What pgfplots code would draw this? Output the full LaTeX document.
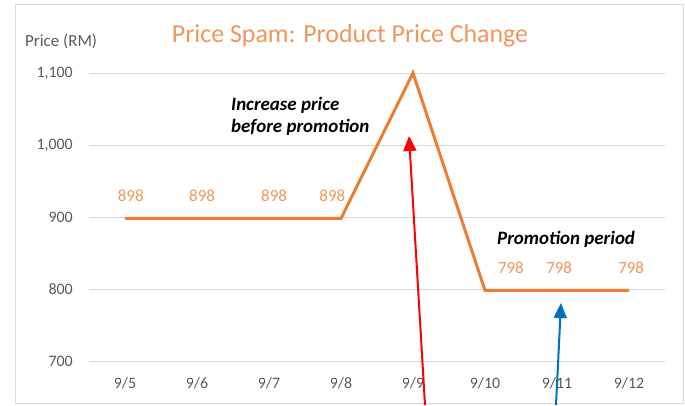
\documentclass[border=0pt]{standalone}
\usepackage{fontspec}
\setmainfont{Carlito}
\usepackage{pgfplots}
\pgfplotsset{compat=1.18}
\usetikzlibrary{arrows.meta}
\definecolor{lineor}{HTML}{ED7D31}
\definecolor{lightor}{HTML}{F0965A}
\definecolor{tickgray}{HTML}{595959}
\definecolor{gridgray}{HTML}{D9D9D9}
\definecolor{arrred}{HTML}{FF0000}
\definecolor{arrblue}{HTML}{0070C0}
\begin{document}
\begin{tikzpicture}[x=1bp,y=1bp]
\useasboundingbox (0,0) rectangle (685,405);
\draw[gridgray, line width=1bp] (15,2) rectangle (683,400);
\begin{axis}[
  at={(89bp,44bp)}, anchor=south west,
  scale only axis, width=576bp, height=288bp,
  xmin=-0.5, xmax=7.5, ymin=700, ymax=1100,
  ytick={700,800,900,1000,1100},
  xtick={0,1,2,3,4,5,6,7},
  xticklabels={9/5,9/6,9/7,9/8,9/9,9/10,9/11,9/12},
  ymajorgrids, grid style={gridgray, line width=1bp},
  axis line style={draw=none},
  major tick length=0pt,
  tick label style={font=\fontsize{16}{18}\selectfont, text=tickgray},
  /pgf/number format/assume math mode=true,
  /pgf/number format/1000 sep={,},
  yticklabel style={anchor=east, inner sep=0pt, xshift=-16bp},
  xticklabel style={anchor=north, inner sep=0pt, yshift=-16bp},
  clip=false,
]
\addplot[lineor, line width=3bp, line join=miter] coordinates {
  (0,898) (1,898) (2,898) (3,898) (4,1100) (5,798) (6,798) (7,798)};
\addplot[draw=none, mark=none, point meta=explicit symbolic,
  nodes near coords,
  nodes near coords style={text=lightor, font=\fontsize{17}{19}\selectfont, anchor=center, yshift=23bp}]
  coordinates {
  (0.08,898) [898] (1.07,898) [898] (2.07,898) [898] (2.88,898) [898]
  (5.36,798) [798] (6.03,798) [798] (7.03,798) [798]};
\end{axis}
\node[anchor=base, text=lightor, font=\fontsize{26}{30}\selectfont] at (350,363) {Price Spam: Product Price Change};
\node[anchor=base west, inner sep=0pt, text=tickgray, font=\fontsize{17}{20}\selectfont] at (25,359) {Price (RM)};
\node[anchor=base west, inner sep=0pt, font=\fontsize{19}{22}\bfseries\itshape] at (231,295) {Increase price};
\node[anchor=base west, inner sep=0pt, font=\fontsize{19}{22}\bfseries\itshape] at (231,273) {before promotion};
\node[anchor=west, inner sep=0pt, font=\fontsize{19}{22}\bfseries\itshape] at (497,166) {Promotion period};
\draw[arrred, line width=2bp, -{Triangle[width=13bp,length=15bp]}] (425,0) -- (409,269);
\draw[arrblue, line width=2bp, -{Triangle[width=13bp,length=15bp]}] (556,0) -- (561,102);
\end{tikzpicture}
\end{document}
